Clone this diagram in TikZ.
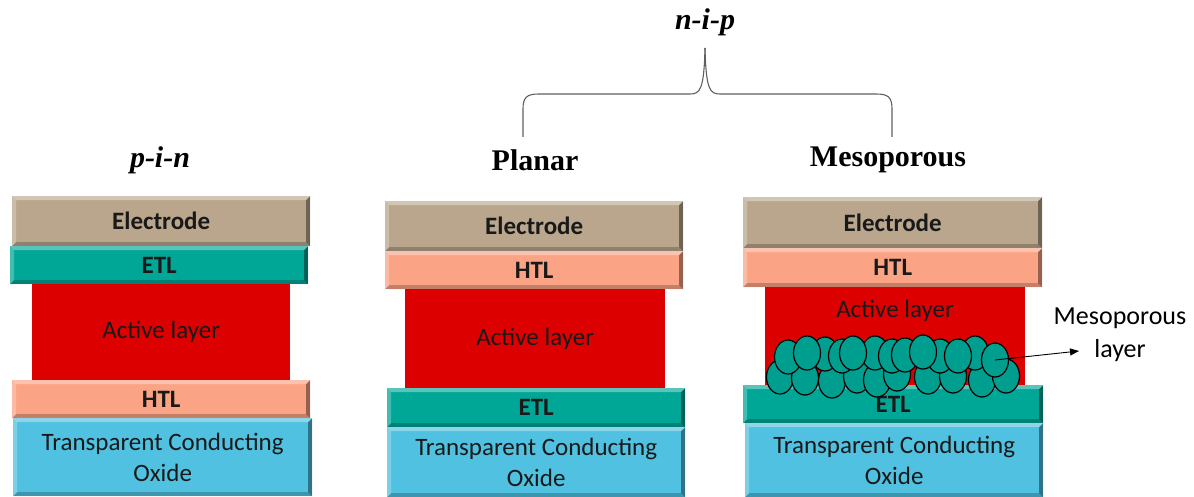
\documentclass[tikz,border=0pt]{standalone}
\usepackage{fontspec}
\setmainfont{Carlito}
\newfontfamily\titlefont{Liberation Serif}
\usetikzlibrary{arrows.meta,shapes.geometric}

\definecolor{electrodeC}{RGB}{185,166,141}
\definecolor{etlC}{RGB}{0,166,150}
\definecolor{htlC}{RGB}{250,164,133}
\definecolor{activeC}{RGB}{221,0,0}
\definecolor{tcoC}{RGB}{80,193,224}
\definecolor{poreC}{RGB}{0,158,142}
\definecolor{braceC}{RGB}{95,95,95}

\tikzset{
  layer/.style={rectangle, draw=none, inner sep=0pt, anchor=north west,
    align=center, text=black!90, font=\fontsize{25}{31}\selectfont},
  bevel/.style={path picture={
    \fill[white,opacity=.35] (path picture bounding box.north west) -- (path picture bounding box.north east)
      -- ([shift={(-4pt,-4pt)}]path picture bounding box.north east) -- ([shift={(4pt,-4pt)}]path picture bounding box.north west) -- cycle;
    \fill[white,opacity=.25] (path picture bounding box.north west) -- (path picture bounding box.south west)
      -- ([shift={(4pt,4pt)}]path picture bounding box.south west) -- ([shift={(4pt,-4pt)}]path picture bounding box.north west) -- cycle;
    \fill[black,opacity=.4] (path picture bounding box.north east) -- (path picture bounding box.south east)
      -- ([shift={(-4pt,4pt)}]path picture bounding box.south east) -- ([shift={(-4pt,-4pt)}]path picture bounding box.north east) -- cycle;
    \fill[black,opacity=.22] (path picture bounding box.south west) -- (path picture bounding box.south east)
      -- ([shift={(-4pt,4pt)}]path picture bounding box.south east) -- ([shift={(4pt,4pt)}]path picture bounding box.south west) -- cycle;
  }},
  title/.style={font=\titlefont\bfseries\fontsize{30}{34}\selectfont, inner sep=0pt},
  pore/.style={ellipse, draw=black, line width=1.2pt, fill=poreC, minimum width=27pt, minimum height=34pt, inner sep=0pt},
  note/.style={font=\fontsize{26}{33}\selectfont, align=center, inner sep=0pt},
  brace/.style={draw=braceC, line width=1.1pt},
}

\begin{document}
\begin{tikzpicture}[x=1pt,y=-1pt]
\useasboundingbox (0,0) rectangle (1194,497);

% ---- p-i-n stack ----
\node[title] (tPin) at (160,160) {\itshape p-i-n};
\node[layer,bevel,fill=electrodeC,minimum width=298pt,minimum height=50pt] (aE) at (12,196) {\textbf{Electrode}};
\node[layer,bevel,fill=etlC,minimum width=298pt,minimum height=38pt] (aETL) at (10,246) {\textbf{ETL}};
\node[layer,fill=activeC,minimum width=258pt,minimum height=96pt] (aA) at (32,284) {Active layer};
\node[layer,bevel,fill=htlC,minimum width=298pt,minimum height=38pt] (aHTL) at (12,380) {\textbf{HTL}};
\node[layer,bevel,fill=tcoC,minimum width=299pt,minimum height=78pt] (aT) at (13,418) {Transparent Conducting\\Oxide};

% ---- n-i-p planar stack ----
\node[title] (tPl) at (535,160) {Planar};
\node[layer,bevel,fill=electrodeC,minimum width=298pt,minimum height=50pt] (bE) at (385,201) {\textbf{Electrode}};
\node[layer,bevel,fill=htlC,minimum width=298pt,minimum height=38pt] (bHTL) at (385,251) {\textbf{HTL}};
\node[layer,fill=activeC,minimum width=260pt,minimum height=99pt] (bA) at (405,289) {Active layer};
\node[layer,bevel,fill=etlC,minimum width=298pt,minimum height=39pt] (bETL) at (387,388) {\textbf{ETL}};
\node[layer,bevel,fill=tcoC,minimum width=298pt,minimum height=70pt] (bT) at (387,427) {Transparent Conducting\\Oxide};

% ---- n-i-p mesoporous stack ----
\node[title] (tMe) at (888,160) {Mesoporous};
\node[layer,bevel,fill=electrodeC,minimum width=299pt,minimum height=51pt] (cE) at (743,197) {\textbf{Electrode}};
\node[layer,bevel,fill=htlC,minimum width=299pt,minimum height=39pt] (cHTL) at (743,248) {\textbf{HTL}};
\node[layer,fill=activeC,minimum width=260pt,minimum height=98pt] (cA) at (765,287) {};
\node[layer,anchor=center] (cAt) at (895,311) {Active layer};
\node[layer,bevel,fill=etlC,minimum width=300pt,minimum height=38pt,text depth=-6pt] (cETL) at (743,385) {\textbf{ETL}};
\node[layer,bevel,fill=tcoC,minimum width=298pt,minimum height=74pt] (cT) at (745,423) {Transparent Conducting\\Oxide};

% mesoporous particles: lower row first, then the upper row in front
\foreach \x/\y [count=\i] in {780/377,805/378,832/381,857/376,877/380,897/374,928/377,953/376,982/380,1006/376}
  \node[pore] (pl\i) at (\x,\y) {};
\foreach \x/\y [count=\i] in {788/357,825/354,842/356,875/353,892/356,905/355,940/356,975/353}
  \node[pore] (pb\i) at (\x,\y) {};
\foreach \x/\y [count=\i] in {807/353,853/353,923/352,958/356,995/360}
  \node[pore] (pf\i) at (\x,\y) {};

\node[note] (mLab) at (1120,335) {Mesoporous\\layer};
\coordinate (mTip) at (1079,351);
\draw[line width=0.9pt,-{Triangle[length=9pt,width=7pt]}] (pf5.center) -- (mTip);

% ---- n-i-p brace ----
\node[title] (tNip) at (705,22) {\itshape n-i-p};
\coordinate (brL) at (523,137);
\coordinate (brR) at (892,137);
\coordinate (brTip) at (705,48);
\draw[brace] (brL) -- (523,109) .. controls (523,97) and (527,94) .. (539,94)
  -- (690,94) .. controls (700,94) and (704,90) .. (brTip);
\draw[brace] (brTip) .. controls (706,90) and (710,94) .. (720,94)
  -- (876,94) .. controls (888,94) and (892,97) .. (892,109) -- (brR);
\end{tikzpicture}
\end{document}
